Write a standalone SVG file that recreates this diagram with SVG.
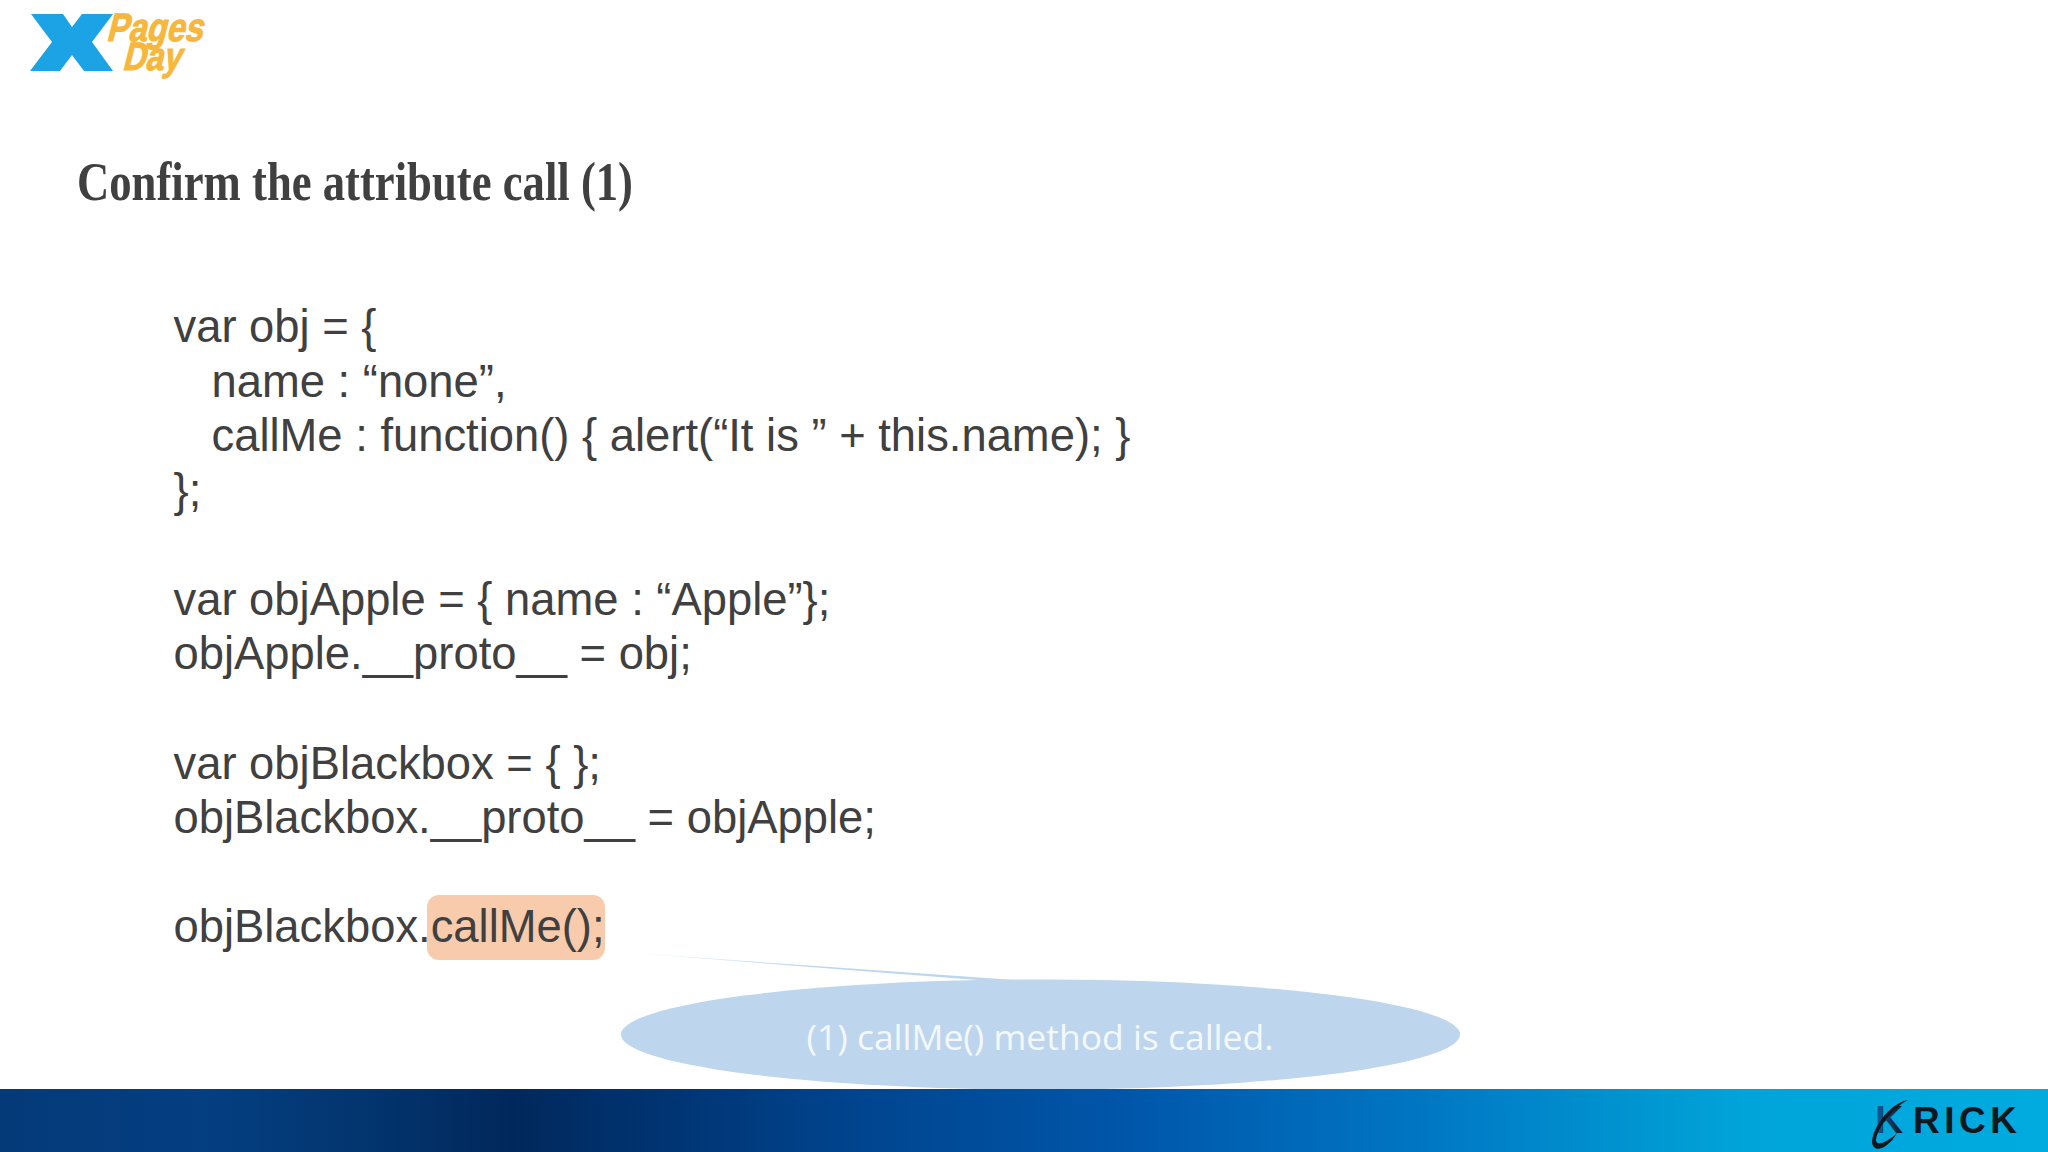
<svg xmlns="http://www.w3.org/2000/svg" width="2048" height="1152" viewBox="0 0 2048 1152">
<style>
.code{font-family:"Liberation Sans",Arial,sans-serif;font-size:45.36px;fill:#404040}
.logo{font-family:"Liberation Sans",Arial,sans-serif;font-weight:bold;fill:#f6b73c;stroke:#f6b73c;stroke-width:1}
</style>
<defs>
<linearGradient id="bar" x1="0" x2="1" y1="0" y2="0">
<stop offset="0" stop-color="#053a78"/>
<stop offset="0.1" stop-color="#043f82"/>
<stop offset="0.17" stop-color="#033670"/>
<stop offset="0.25" stop-color="#01285c"/>
<stop offset="0.33" stop-color="#003574"/>
<stop offset="0.42" stop-color="#00458f"/>
<stop offset="0.55" stop-color="#0056aa"/>
<stop offset="0.7" stop-color="#0078c4"/>
<stop offset="0.85" stop-color="#00a4d8"/>
<stop offset="1" stop-color="#00abe0"/>
</linearGradient>
<linearGradient id="tail" x1="632" x2="1000" y1="953" y2="979" gradientUnits="userSpaceOnUse">
<stop offset="0" stop-color="#bdd6ee" stop-opacity="0.35"/>
<stop offset="0.5" stop-color="#bdd6ee"/>
<stop offset="1" stop-color="#bdd6ee"/>
</linearGradient>
<linearGradient id="k" x1="0" x2="1" y1="0" y2="0">
<stop offset="0" stop-color="#0f5f9f"/>
<stop offset="1" stop-color="#10181f"/>
</linearGradient>
</defs>
<rect width="2048" height="1152" fill="#ffffff"/>
<g id="logo-xpages">
<polygon points="31,14 63,14 72,27 82,14 113,14 92,42 113,71 84,71 72,55 60,71 30,71 52,42" fill="#1ba3e6"/>
<text class="logo" font-size="36" transform="translate(106,41) skewX(-14) scale(1,1.1)" textLength="96" lengthAdjust="spacingAndGlyphs">Pages</text>
<text class="logo" font-size="36" transform="translate(122,70) skewX(-14) scale(1,1.1)" textLength="58" lengthAdjust="spacingAndGlyphs">Day</text>
</g>
<text id="title" x="77" y="200" font-family="'Liberation Serif',serif" font-weight="bold" font-size="54" fill="#404040" textLength="556" lengthAdjust="spacingAndGlyphs">Confirm the attribute call (1)</text>
<g id="highlight"><rect x="427" y="895" width="178" height="65" rx="12" fill="#f8cbad"/></g>
<g id="code">
<text class="code" x="173.500" y="342">var obj = {</text>
<text class="code" x="211.500" y="397">name : “none”,</text>
<text class="code" x="211.500" y="451">callMe : function() { alert(“It is ” + this.name); }</text>
<text class="code" x="173.500" y="506">};</text>
<text class="code" x="173.500" y="615">var objApple = { name : “Apple”};</text>
<text class="code" x="173.500" y="669">objApple.__proto__ = obj;</text>
<text class="code" x="173.500" y="779">var objBlackbox = { };</text>
<text class="code" x="173.500" y="833">objBlackbox.__proto__ = objApple;</text>
<text class="code" x="173.500" y="942">objBlackbox.callMe();</text>
</g>
<g id="connectors"><polygon points="632,953 990,981 1015,980" fill="url(#tail)"/></g>
<g id="callout">
<ellipse cx="1040.500" cy="1034.500" rx="419.500" ry="55" fill="#bdd6ee"/>
<text x="1040" y="1050" text-anchor="middle" font-family="'Open Sans',sans-serif" font-size="35" fill="#ffffff" fill-opacity="0.85" textLength="467" lengthAdjust="spacingAndGlyphs">(1) callMe() method is called.</text>
</g>
<rect id="footer-bar" y="1089" width="2048" height="63" fill="url(#bar)"/>
<g id="logo-krick">
<text x="1875" y="1133" font-family="'Liberation Sans',sans-serif" font-weight="bold" font-size="39" fill="url(#k)">K</text>
<path d="M1874 1147 C1866 1140 1885 1104 1908 1100 C1892 1108 1876 1130 1876 1141 C1878 1147 1890 1140 1897 1133 C1890 1146 1878 1152 1874 1147Z" fill="#10181f"/>
<text x="1913" y="1133" font-family="'Liberation Sans',sans-serif" font-weight="bold" font-size="37" letter-spacing="4.500" fill="#10181f">RICK</text>
</g>
</svg>
